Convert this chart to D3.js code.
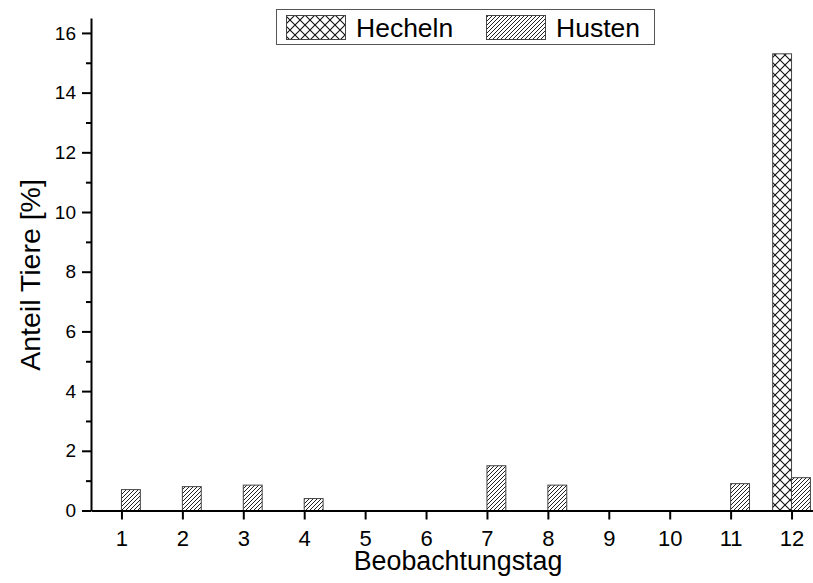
<!DOCTYPE html>
<html>
<head>
<meta charset="utf-8">
<script src="https://cdn.jsdelivr.net/npm/d3@7"></script>
<style>
  body { margin: 0; background: #fff; }
  svg { display: block; font-family: "Liberation Sans", Arial, sans-serif; }
</style>
</head>
<body>
<svg width="813" height="583"></svg>
<script>
var days = [1, 2, 3, 4, 5, 6, 7, 8, 9, 10, 11, 12];
var hecheln = [0, 0, 0, 0, 0, 0, 0, 0, 0, 0, 0, 15.3];
var husten = [0.7, 0.8, 0.85, 0.4, 0, 0, 1.5, 0.85, 0, 0, 0.9, 1.1];
var yMajor = [0, 2, 4, 6, 8, 10, 12, 14, 16];
var yMinor = [1, 3, 5, 7, 9, 11, 13, 15];
var seriesNames = ["Hecheln", "Husten"];

var svg = d3.select("svg");

var x = d3.scaleLinear().domain([0.5, 12.5]).range([91, 822]);
var y = d3.scaleLinear().domain([0, 16.5]).range([510.5, 18]);
var barW = 0.31;

// hatch patterns
var defs = svg.append("defs");
var cross = defs.append("pattern")
    .attr("id", "cross")
    .attr("patternUnits", "userSpaceOnUse")
    .attr("width", 10).attr("height", 10);
cross.append("rect").attr("width", 10).attr("height", 10).attr("fill", "#fff");
cross.append("path")
    .attr("d", "M0,0L10,10M10,0L0,10")
    .attr("stroke", "#111").attr("stroke-width", 1.1);

var diag = defs.append("pattern")
    .attr("id", "diag")
    .attr("patternUnits", "userSpaceOnUse")
    .attr("width", 4).attr("height", 4);
diag.append("rect").attr("width", 4).attr("height", 4).attr("fill", "#fff");
diag.append("path")
    .attr("d", "M-1,1L1,-1M0,4L4,0M3,5L5,3")
    .attr("stroke", "#222").attr("stroke-width", 1);

var fills = ["url(#cross)", "url(#diag)"];

// bars
var bars = svg.append("g").attr("class", "bars");
[hecheln, husten].forEach(function(vals, s) {
  bars.selectAll("rect.s" + s)
    .data(days.filter(function(d, i) { return vals[i] > 0; }))
    .enter().append("rect")
      .attr("class", "s" + s)
      .attr("x", function(d) { return x(d + (s - 1) * barW); })
      .attr("width", function(d) { return x(d + barW) - x(d); })
      .attr("y", function(d) { return y(vals[d - 1]); })
      .attr("height", function(d) { return y(0) - y(vals[d - 1]); })
      .attr("fill", fills[s])
      .attr("stroke", "#444")
      .attr("stroke-width", 1);
});

// axes
var yAxis = svg.append("g")
    .attr("transform", "translate(" + x(0.5) + ",0)")
    .call(d3.axisLeft(y).tickValues(yMajor).tickSize(9).tickSizeOuter(0).tickPadding(6));
var yMinorAxis = svg.append("g")
    .attr("transform", "translate(" + x(0.5) + ",0)")
    .call(d3.axisLeft(y).tickValues(yMinor).tickSize(5).tickSizeOuter(0).tickFormat(""));
yMinorAxis.select(".domain").remove();

var xAxis = svg.append("g")
    .attr("transform", "translate(0," + y(0) + ")")
    .call(d3.axisBottom(x).tickValues(days).tickSize(9).tickSizeOuter(0).tickPadding(11));

svg.selectAll(".domain").attr("stroke", "#000").attr("stroke-width", 2);
svg.selectAll(".tick line").attr("stroke", "#000").attr("stroke-width", 2);
yAxis.selectAll("text").attr("font-size", 19).attr("fill", "#000")
    .attr("font-family", "Liberation Sans, Arial, sans-serif");
xAxis.selectAll("text").attr("font-size", 22).attr("fill", "#000")
    .attr("font-family", "Liberation Sans, Arial, sans-serif");

// axis titles
svg.append("text")
    .attr("transform", "translate(40,275) rotate(-90)")
    .attr("text-anchor", "middle")
    .attr("font-size", 28.5)
    .text("Anteil Tiere [%]");

svg.append("text")
    .attr("x", 458).attr("y", 570)
    .attr("text-anchor", "middle")
    .attr("font-size", 26.8)
    .text("Beobachtungstag");

// legend
var legend = svg.append("g").attr("class", "legend");
legend.append("rect")
    .attr("x", 276.5).attr("y", 9.5).attr("width", 378).attr("height", 35)
    .attr("fill", "#fff").attr("stroke", "#555").attr("stroke-width", 1);
var legX = [286, 486];
seriesNames.forEach(function(name, i) {
  legend.append("rect")
      .attr("x", legX[i] + 0.5).attr("y", 15.5).attr("width", 59).attr("height", 24)
      .attr("fill", fills[i]).attr("stroke", "#444").attr("stroke-width", 1);
  legend.append("text")
      .attr("x", legX[i] + 70).attr("y", 36.5)
      .attr("font-size", 26.5)
      .text(name);
});
</script>
</body>
</html>
